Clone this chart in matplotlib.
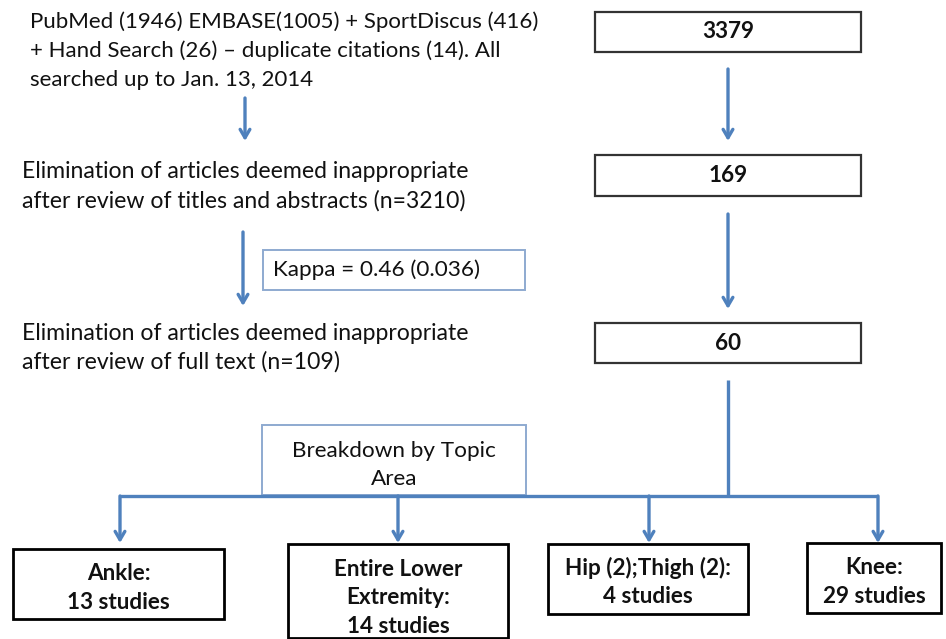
import matplotlib
matplotlib.use("Agg")
import matplotlib.pyplot as plt
from matplotlib.patches import Rectangle

# ---- data ----
search_lines = ["PubMed (1946) EMBASE(1005) + SportDiscus (416)",
                "+ Hand Search (26) \u2013 duplicate citations (14). All",
                "searched up to Jan. 13, 2014"]
screen1_lines = ["Elimination of articles deemed inappropriate",
                 "after review of titles and abstracts (n=3210)"]
screen2_lines = ["Elimination of articles deemed inappropriate",
                 "after review of full text (n=109)"]
kappa_label = "Kappa = 0.46 (0.036)"
counts = ["3379", "169", "60"]
breakdown_label = "Breakdown by Topic\nArea"
topics = ["Ankle:\n13 studies", "Entire Lower\nExtremity:\n14 studies",
          "Hip (2);Thigh (2):\n4 studies", "Knee:\n29 studies"]

W, H = 946, 639
fig = plt.figure(figsize=(W / 100, H / 100), dpi=100)
ax = fig.add_axes([0, 0, 1, 1])
ax.set_xlim(0, W)
ax.set_ylim(H, 0)
ax.axis("off")

FONT = "Lato"
ARROW = "#4f81bd"
BOXBLUE = "#8eaad0"
fs = 16.2
fsl = 16.6

def arrow(x, y0, y1):
    ax.annotate("", xy=(x, y1), xytext=(x, y0),
                arrowprops=dict(arrowstyle="->,head_length=0.6,head_width=0.35",
                                color=ARROW, lw=2.4, shrinkA=0, shrinkB=0))

def lines(x, ys, texts, size):
    for y, t in zip(ys, texts):
        ax.text(x, y, t, ha="left", va="center", fontsize=size, family=FONT,
                color="#111111")

# left text blocks
lines(30, [22, 51, 80], search_lines, 16.0)
lines(22, [172, 201], screen1_lines, fsl)
lines(22, [333, 362], screen2_lines, fsl)

# left arrows
arrow(245, 98, 141)
arrow(243, 232, 306)

# kappa box
ax.add_patch(Rectangle((263, 250), 262, 40, fill=False, edgecolor=BOXBLUE, lw=1.4))
ax.text(273, 270, kappa_label, ha="left", va="center", fontsize=fs, family=FONT, color="#111111")

# right column boxes
box_y = [(12, 52), (155, 196), (323, 363)]
for (y0, y1), c in zip(box_y, counts):
    ax.add_patch(Rectangle((595, y0), 266, y1 - y0, fill=False, edgecolor="#333333", lw=1.6))
    ax.text(728, (y0 + y1) / 2, c, ha="center", va="center", fontsize=fs,
            family=FONT, fontweight="bold", color="#111111")

arrow(728, 69, 141)
arrow(728, 214, 309)
ax.plot([728, 728], [380, 496], color=ARROW, lw=2.4, solid_capstyle="butt")

# breakdown box
ax.add_patch(Rectangle((262, 425), 264, 70, facecolor="white", edgecolor=BOXBLUE, lw=1.4))
ax.text(394, 465, breakdown_label, ha="center", va="center", fontsize=fs,
        family=FONT, color="#111111", linespacing=1.5)

# horizontal distribution line
drop_x = [120, 398, 649, 878]
ax.plot([drop_x[0], drop_x[-1]], [496, 496], color=ARROW, lw=2.4, solid_capstyle="butt")
for x in drop_x:
    arrow(x, 496, 543)

# topic boxes
topic_boxes = [(13, 549, 224, 619), (288, 544, 508, 638), (548, 544, 748, 614), (807, 543, 941, 613)]
text_y = [588, 598, 582, 582]
for (x0, y0, x1, y1), ty, t in zip(topic_boxes, text_y, topics):
    ax.add_patch(Rectangle((x0, y0), x1 - x0, y1 - y0, fill=False, edgecolor="black", lw=2))
    ax.text((x0 + x1) / 2, ty, t, ha="center", va="center", fontsize=fs,
            family=FONT, fontweight="bold", color="#111111", linespacing=1.45)

fig.savefig("out.png", dpi=100)
